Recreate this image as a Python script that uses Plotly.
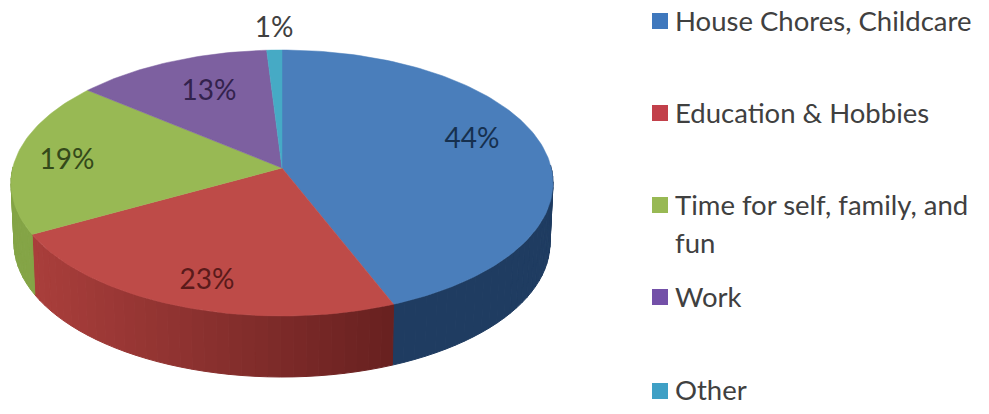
import math
import plotly.graph_objects as go

# Data
categories = ["House Chores, Childcare", "Education & Hobbies",
              "Time for self, family, and fun", "Work", "Other"]
values = [44, 23, 19, 13, 1]

# Style
top_colors = ["#4a7ebb", "#be4b48", "#98b954", "#7d60a0", "#46aac5"]
wall_from = ["#1f3f66", "#ab3f3c", "#8aa84a", "#6a5088", "#3a90a8"]
wall_to = ["#1f3a5c", "#682120", "#7f9f42", "#6a5088", "#3a90a8"]
legend_colors = ["#3f78bd", "#c2404a", "#98b954", "#7350a8", "#3fa0c5"]
TEXT = "#404040"
FONT = "Lato"

# Projection of the disc, in page pixels
AX, AY = 282, 168           # pie apex
CX, CY, RX, RY = 282, 183, 271, 133   # top rim ellipse
BX, BY, BRX, BRY = 282, 243, 268, 134  # bottom rim ellipse
VRY = 131


def rim(theta):
    """Normalised rim position for a clockwise-from-top pie angle."""
    dx, dy = math.sin(theta) * RX, -math.cos(theta) * VRY
    ox, oy = AX - CX, AY - CY
    a = (dx / RX) ** 2 + (dy / RY) ** 2
    b = 2 * (ox * dx / RX ** 2 + oy * dy / RY ** 2)
    c = (ox / RX) ** 2 + (oy / RY) ** 2 - 1
    t = (-b + math.sqrt(b * b - 4 * a * c)) / (2 * a)
    return (ox + t * dx) / RX, (oy + t * dy) / RY


def top_pt(u, v):
    return CX + RX * u, CY + RY * v


def bot_pt(u, v):
    return BX + BRX * u, BY + BRY * v


def mix(c1, c2, f):
    f = max(0.0, min(1.0, f))
    p = [int(c1[i:i + 2], 16) for i in (1, 3, 5)]
    q = [int(c2[i:i + 2], 16) for i in (1, 3, 5)]
    return "rgb(%d,%d,%d)" % tuple(round(a + (b - a) * f) for a, b in zip(p, q))


fig = go.Figure()
total = sum(values)
edges = [0.0]
for val in values:
    edges.append(edges[-1] + val / total * 2 * math.pi)

# Side wall
for i in range(len(values)):
    n = max(2, int(values[i] * 1.5))
    for k in range(n):
        a0 = edges[i] + (edges[i + 1] - edges[i]) * k / n
        a1 = edges[i] + (edges[i + 1] - edges[i]) * (k + 1) / n
        u0, v0 = rim(a0)
        u1, v1 = rim(a1)
        if max(v0, v1) < -0.12:
            continue
        p = [top_pt(u0, v0), top_pt(u1, v1), bot_pt(u1, v1), bot_pt(u0, v0), top_pt(u0, v0)]
        # red shades from left to right, the others are near flat
        f = ((u0 + u1) / 2 + 0.95) / 1.35
        col = mix(wall_from[i], wall_to[i], f if i == 1 else 0.5)
        fig.add_trace(go.Scatter(x=[q[0] for q in p], y=[q[1] for q in p], mode="lines",
                                 fill="toself", fillcolor=col, line=dict(color=col, width=1),
                                 hoverinfo="skip", showlegend=False))

# Top face
for i, cat in enumerate(categories):
    n = max(4, int(values[i] * 3))
    pts = [(AX, AY)]
    for k in range(n + 1):
        pts.append(top_pt(*rim(edges[i] + (edges[i + 1] - edges[i]) * k / n)))
    pts.append((AX, AY))
    fig.add_trace(go.Scatter(x=[q[0] for q in pts], y=[q[1] for q in pts], mode="lines",
                             fill="toself", fillcolor=top_colors[i],
                             line=dict(color=top_colors[i], width=0.5),
                             name=cat, hoverinfo="name", showlegend=False))

# Percent labels
label_x = [472, 207, 67, 209, 274]
label_y = [141, 282, 162, 93, 30]
label_colors = ["#16304f", "#5a1a1a", "#34491a", "#33224d", "#404040"]
fig.add_trace(go.Scatter(x=label_x, y=label_y, mode="text",
                         text=[f"{v}%" for v in values], cliponaxis=False,
                         textfont=dict(family=FONT, size=28, color=label_colors),
                         hoverinfo="skip", showlegend=False))

# Legend
key_x = [660] * 5
key_y = [21, 113, 205, 297, 391]
fig.add_trace(go.Scatter(x=key_x, y=key_y, mode="markers",
                         marker=dict(symbol="square", size=16, color=legend_colors, line_width=0),
                         hoverinfo="skip", showlegend=False))
legend_lines = ["House Chores, Childcare", "Education & Hobbies", "Time for self, family, and", "fun", "Work", "Other"]
line_y = [24, 116, 208, 246, 300, 393]
fig.add_trace(go.Scatter(x=[675] * 6, y=line_y, mode="text", text=legend_lines,
                         textposition="middle right", cliponaxis=False,
                         textfont=dict(family=FONT, size=27.5, color=TEXT),
                         hoverinfo="skip", showlegend=False))

# The page has an 8px body margin, so the plot area is inset to keep 1:1 pixels
fig.update_layout(
    width=981, height=406, margin=dict(l=0, r=0, t=0, b=0),
    paper_bgcolor="white", plot_bgcolor="white",
    xaxis=dict(range=[8, 989], visible=False, fixedrange=True),
    yaxis=dict(range=[414, 8], visible=False, fixedrange=True),
    showlegend=False,
)
fig.write_html("out.html", config=dict(displayModeBar=False))
